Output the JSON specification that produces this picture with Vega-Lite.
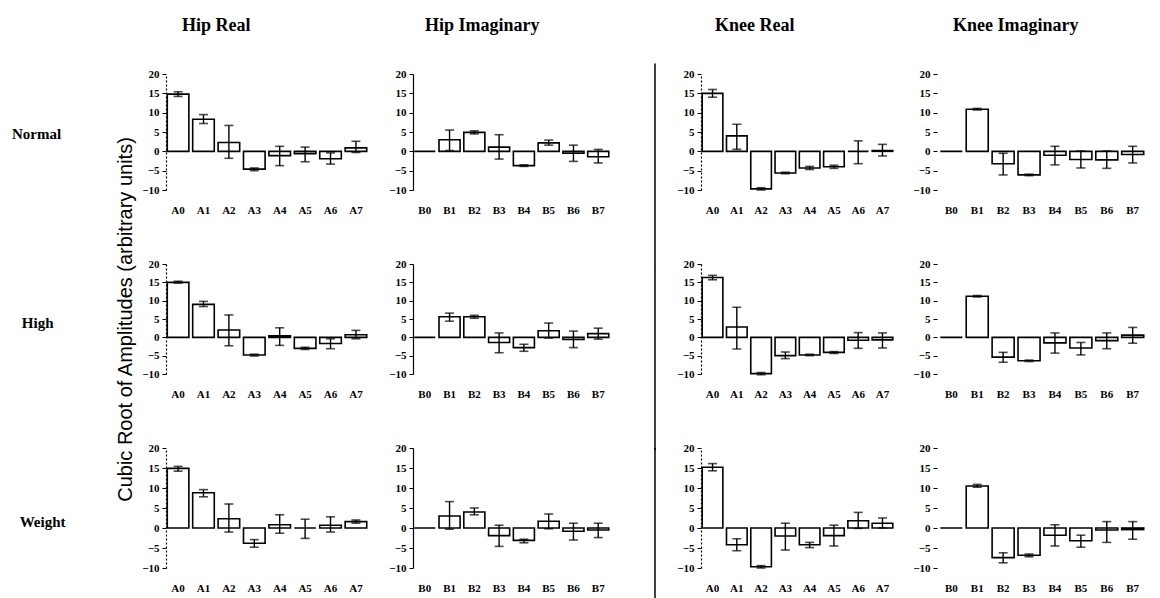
{
"$schema":"https://vega.github.io/schema/vega-lite/v6.json",
"padding":{"left":12,"top":17,"right":5,"bottom":0},
"background":"white",
"config":{
 "view":{"stroke":null},
 "axis":{"labelFont":"Liberation Serif","labelFontWeight":"bold","labelFontSize":11,"labelColor":"black","grid":false,"tickColor":"black","domainColor":"black","titleColor":"black"},
 "axisX":{"domain":false,"ticks":false,"labelAngle":0,"labelPadding":14},
 "axisY":{"tickSize":4,"labelPadding":3,"domainWidth":1.2},
 "scale":{"bandPaddingInner":0.15,"bandPaddingOuter":0.05},
 "title":{"font":"Liberation Serif","fontWeight":"bold","fontSize":18,"color":"black"}
},
"datasets":{"d":[
{"cond":"Normal","part":"Hip Real","coef":"A0","value":14.8,"lo":14.2,"hi":15.4},
{"cond":"Normal","part":"Hip Real","coef":"A1","value":8.3,"lo":7.2,"hi":9.5},
{"cond":"Normal","part":"Hip Real","coef":"A2","value":2.3,"lo":-1.8,"hi":6.7},
{"cond":"Normal","part":"Hip Real","coef":"A3","value":-4.6,"lo":-5.0,"hi":-4.3},
{"cond":"Normal","part":"Hip Real","coef":"A4","value":-1.1,"lo":-3.7,"hi":1.3},
{"cond":"Normal","part":"Hip Real","coef":"A5","value":-0.6,"lo":-2.7,"hi":1.1},
{"cond":"Normal","part":"Hip Real","coef":"A6","value":-1.9,"lo":-3.3,"hi":-0.4},
{"cond":"Normal","part":"Hip Real","coef":"A7","value":0.9,"lo":-0.3,"hi":2.6},
{"cond":"Normal","part":"Hip Imaginary","coef":"B0","value":0,"lo":null,"hi":null},
{"cond":"Normal","part":"Hip Imaginary","coef":"B1","value":3.0,"lo":0.2,"hi":5.5},
{"cond":"Normal","part":"Hip Imaginary","coef":"B2","value":4.9,"lo":4.5,"hi":5.3},
{"cond":"Normal","part":"Hip Imaginary","coef":"B3","value":1.1,"lo":-2.0,"hi":4.3},
{"cond":"Normal","part":"Hip Imaginary","coef":"B4","value":-3.7,"lo":-3.9,"hi":-3.5},
{"cond":"Normal","part":"Hip Imaginary","coef":"B5","value":2.2,"lo":1.6,"hi":2.9},
{"cond":"Normal","part":"Hip Imaginary","coef":"B6","value":-0.5,"lo":-2.6,"hi":1.6},
{"cond":"Normal","part":"Hip Imaginary","coef":"B7","value":-1.4,"lo":-3.0,"hi":0.5},
{"cond":"Normal","part":"Knee Real","coef":"A0","value":15.0,"lo":14.0,"hi":16.0},
{"cond":"Normal","part":"Knee Real","coef":"A1","value":4.0,"lo":0.5,"hi":7.0},
{"cond":"Normal","part":"Knee Real","coef":"A2","value":-9.7,"lo":-10.0,"hi":-9.4},
{"cond":"Normal","part":"Knee Real","coef":"A3","value":-5.6,"lo":-5.8,"hi":-5.4},
{"cond":"Normal","part":"Knee Real","coef":"A4","value":-4.3,"lo":-4.7,"hi":-3.9},
{"cond":"Normal","part":"Knee Real","coef":"A5","value":-4.0,"lo":-4.4,"hi":-3.6},
{"cond":"Normal","part":"Knee Real","coef":"A6","value":0,"lo":-3.2,"hi":2.7},
{"cond":"Normal","part":"Knee Real","coef":"A7","value":0.2,"lo":-1.2,"hi":1.8},
{"cond":"Normal","part":"Knee Imaginary","coef":"B0","value":0,"lo":null,"hi":null},
{"cond":"Normal","part":"Knee Imaginary","coef":"B1","value":10.9,"lo":10.7,"hi":11.1},
{"cond":"Normal","part":"Knee Imaginary","coef":"B2","value":-3.2,"lo":-6.1,"hi":-0.5},
{"cond":"Normal","part":"Knee Imaginary","coef":"B3","value":-6.1,"lo":-6.3,"hi":-5.9},
{"cond":"Normal","part":"Knee Imaginary","coef":"B4","value":-1.0,"lo":-3.5,"hi":1.3},
{"cond":"Normal","part":"Knee Imaginary","coef":"B5","value":-2.1,"lo":-4.3,"hi":0.1},
{"cond":"Normal","part":"Knee Imaginary","coef":"B6","value":-2.2,"lo":-4.4,"hi":0.1},
{"cond":"Normal","part":"Knee Imaginary","coef":"B7","value":-0.8,"lo":-3.0,"hi":1.3},
{"cond":"High","part":"Hip Real","coef":"A0","value":15.0,"lo":14.8,"hi":15.3},
{"cond":"High","part":"Hip Real","coef":"A1","value":9.0,"lo":8.4,"hi":9.8},
{"cond":"High","part":"Hip Real","coef":"A2","value":2.0,"lo":-2.3,"hi":6.1},
{"cond":"High","part":"Hip Real","coef":"A3","value":-4.8,"lo":-5.1,"hi":-4.6},
{"cond":"High","part":"Hip Real","coef":"A4","value":0.4,"lo":-2.2,"hi":2.6},
{"cond":"High","part":"Hip Real","coef":"A5","value":-3.0,"lo":-3.3,"hi":-2.7},
{"cond":"High","part":"Hip Real","coef":"A6","value":-1.7,"lo":-3.1,"hi":-0.4},
{"cond":"High","part":"Hip Real","coef":"A7","value":0.7,"lo":-0.4,"hi":1.9},
{"cond":"High","part":"Hip Imaginary","coef":"B0","value":0,"lo":null,"hi":null},
{"cond":"High","part":"Hip Imaginary","coef":"B1","value":5.6,"lo":4.4,"hi":6.6},
{"cond":"High","part":"Hip Imaginary","coef":"B2","value":5.6,"lo":5.2,"hi":6.0},
{"cond":"High","part":"Hip Imaginary","coef":"B3","value":-1.4,"lo":-4.2,"hi":1.2},
{"cond":"High","part":"Hip Imaginary","coef":"B4","value":-2.8,"lo":-3.8,"hi":-1.9},
{"cond":"High","part":"Hip Imaginary","coef":"B5","value":1.8,"lo":-0.2,"hi":3.9},
{"cond":"High","part":"Hip Imaginary","coef":"B6","value":-0.6,"lo":-2.8,"hi":1.7},
{"cond":"High","part":"Hip Imaginary","coef":"B7","value":1.0,"lo":-0.5,"hi":2.5},
{"cond":"High","part":"Knee Real","coef":"A0","value":16.3,"lo":15.7,"hi":16.9},
{"cond":"High","part":"Knee Real","coef":"A1","value":2.8,"lo":-3.2,"hi":8.2},
{"cond":"High","part":"Knee Real","coef":"A2","value":-9.9,"lo":-10.2,"hi":-9.6},
{"cond":"High","part":"Knee Real","coef":"A3","value":-5.0,"lo":-5.8,"hi":-4.0},
{"cond":"High","part":"Knee Real","coef":"A4","value":-4.8,"lo":-5.0,"hi":-4.6},
{"cond":"High","part":"Knee Real","coef":"A5","value":-4.1,"lo":-4.4,"hi":-3.9},
{"cond":"High","part":"Knee Real","coef":"A6","value":-0.8,"lo":-3.0,"hi":1.3},
{"cond":"High","part":"Knee Real","coef":"A7","value":-0.7,"lo":-2.9,"hi":1.2},
{"cond":"High","part":"Knee Imaginary","coef":"B0","value":0,"lo":null,"hi":null},
{"cond":"High","part":"Knee Imaginary","coef":"B1","value":11.2,"lo":11.0,"hi":11.4},
{"cond":"High","part":"Knee Imaginary","coef":"B2","value":-5.4,"lo":-6.8,"hi":-4.1},
{"cond":"High","part":"Knee Imaginary","coef":"B3","value":-6.4,"lo":-6.6,"hi":-6.2},
{"cond":"High","part":"Knee Imaginary","coef":"B4","value":-1.5,"lo":-4.3,"hi":1.2},
{"cond":"High","part":"Knee Imaginary","coef":"B5","value":-2.9,"lo":-4.8,"hi":-1.4},
{"cond":"High","part":"Knee Imaginary","coef":"B6","value":-0.9,"lo":-3.1,"hi":1.2},
{"cond":"High","part":"Knee Imaginary","coef":"B7","value":0.6,"lo":-1.6,"hi":2.7},
{"cond":"Weight","part":"Hip Real","coef":"A0","value":14.9,"lo":14.2,"hi":15.4},
{"cond":"Weight","part":"Hip Real","coef":"A1","value":8.8,"lo":7.8,"hi":9.6},
{"cond":"Weight","part":"Hip Real","coef":"A2","value":2.3,"lo":-1.0,"hi":6.0},
{"cond":"Weight","part":"Hip Real","coef":"A3","value":-3.8,"lo":-4.8,"hi":-2.9},
{"cond":"Weight","part":"Hip Real","coef":"A4","value":0.8,"lo":-1.3,"hi":3.3},
{"cond":"Weight","part":"Hip Real","coef":"A5","value":0,"lo":-2.6,"hi":2.2},
{"cond":"Weight","part":"Hip Real","coef":"A6","value":0.7,"lo":-1.0,"hi":2.8},
{"cond":"Weight","part":"Hip Real","coef":"A7","value":1.6,"lo":1.2,"hi":2.0},
{"cond":"Weight","part":"Hip Imaginary","coef":"B0","value":0,"lo":null,"hi":null},
{"cond":"Weight","part":"Hip Imaginary","coef":"B1","value":3.0,"lo":-0.3,"hi":6.6},
{"cond":"Weight","part":"Hip Imaginary","coef":"B2","value":4.0,"lo":3.3,"hi":5.0},
{"cond":"Weight","part":"Hip Imaginary","coef":"B3","value":-1.9,"lo":-4.6,"hi":0.7},
{"cond":"Weight","part":"Hip Imaginary","coef":"B4","value":-3.1,"lo":-3.7,"hi":-2.8},
{"cond":"Weight","part":"Hip Imaginary","coef":"B5","value":1.7,"lo":-0.2,"hi":3.5},
{"cond":"Weight","part":"Hip Imaginary","coef":"B6","value":-0.8,"lo":-3.0,"hi":1.2},
{"cond":"Weight","part":"Hip Imaginary","coef":"B7","value":-0.5,"lo":-2.4,"hi":1.2},
{"cond":"Weight","part":"Knee Real","coef":"A0","value":15.2,"lo":14.3,"hi":16.1},
{"cond":"Weight","part":"Knee Real","coef":"A1","value":-4.2,"lo":-5.7,"hi":-2.7},
{"cond":"Weight","part":"Knee Real","coef":"A2","value":-9.7,"lo":-10.0,"hi":-9.4},
{"cond":"Weight","part":"Knee Real","coef":"A3","value":-2.0,"lo":-5.5,"hi":1.2},
{"cond":"Weight","part":"Knee Real","coef":"A4","value":-4.2,"lo":-4.9,"hi":-3.6},
{"cond":"Weight","part":"Knee Real","coef":"A5","value":-1.9,"lo":-4.5,"hi":0.7},
{"cond":"Weight","part":"Knee Real","coef":"A6","value":1.8,"lo":-0.1,"hi":3.9},
{"cond":"Weight","part":"Knee Real","coef":"A7","value":1.2,"lo":0.0,"hi":2.5},
{"cond":"Weight","part":"Knee Imaginary","coef":"B0","value":0,"lo":null,"hi":null},
{"cond":"Weight","part":"Knee Imaginary","coef":"B1","value":10.5,"lo":10.2,"hi":10.9},
{"cond":"Weight","part":"Knee Imaginary","coef":"B2","value":-7.4,"lo":-8.7,"hi":-6.2},
{"cond":"Weight","part":"Knee Imaginary","coef":"B3","value":-6.8,"lo":-7.2,"hi":-6.5},
{"cond":"Weight","part":"Knee Imaginary","coef":"B4","value":-1.8,"lo":-4.5,"hi":0.8},
{"cond":"Weight","part":"Knee Imaginary","coef":"B5","value":-3.2,"lo":-4.8,"hi":-1.8},
{"cond":"Weight","part":"Knee Imaginary","coef":"B6","value":-0.5,"lo":-3.6,"hi":1.6},
{"cond":"Weight","part":"Knee Imaginary","coef":"B7","value":-0.4,"lo":-2.8,"hi":1.6}
]},
"bounds":"flush",
"columns":6,
"spacing":{"row":74,"column":45},
"concat":[
 {"width":109,"height":116,"data":{"values":[{"cond":"Normal"}]},"mark":{"type":"text","align":"left","baseline":"middle","font":"Liberation Serif","fontWeight":"bold","fontSize":15,"color":"black"},
  "encoding":{"text":{"field":"cond"},"x":{"datum":0,"type":"quantitative","scale":{"domain":[0,1]},"axis":null},"y":{"datum":0.48,"type":"quantitative","scale":{"domain":[0,1]},"axis":null}}},
 {"width":202,"height":116,"title":{"text":"Hip Real","anchor":"start","frame":"group","dx":16,"offset":33},
  "data":{"name":"d"},"transform":[{"filter":"datum.cond=='Normal'&&datum.part=='Hip Real'"}],
  "encoding":{"x":{"field":"coef","type":"nominal","sort":null,"title":null}},
  "layer":[
   {"mark":{"type":"bar","fill":"white","stroke":"black","strokeWidth":1.6},"encoding":{"y":{"field":"value","type":"quantitative","title":null,"scale":{"domain":[-10,20]},"axis":{"values":[-10,-5,0,5,10,15,20],"domainDash":[2,2]}}}},
   {"mark":{"type":"rule","color":"black","strokeWidth":1.4},"encoding":{"y":{"field":"lo","type":"quantitative","title":null,"axis":{"values":[-10,-5,0,5,10,15,20],"domainDash":[2,2]}},"y2":{"field":"hi"}}},
   {"mark":{"type":"tick","color":"black","size":9,"thickness":1.6},"encoding":{"y":{"field":"lo","type":"quantitative","title":null,"axis":{"values":[-10,-5,0,5,10,15,20],"domainDash":[2,2]}}}},
   {"mark":{"type":"tick","color":"black","size":9,"thickness":1.6},"encoding":{"y":{"field":"hi","type":"quantitative","title":null,"axis":{"values":[-10,-5,0,5,10,15,20],"domainDash":[2,2]}}}}
  ]},
 {"width":197,"height":116,"title":{"text":"Hip Imaginary","anchor":"start","frame":"group","dx":12,"offset":33},
  "data":{"name":"d"},"transform":[{"filter":"datum.cond=='Normal'&&datum.part=='Hip Imaginary'"}],
  "encoding":{"x":{"field":"coef","type":"nominal","sort":null,"title":null}},
  "layer":[
   {"mark":{"type":"bar","fill":"white","stroke":"black","strokeWidth":1.6},"encoding":{"y":{"field":"value","type":"quantitative","title":null,"scale":{"domain":[-10,20]},"axis":{"values":[-10,-5,0,5,10,15,20]}}}},
   {"mark":{"type":"rule","color":"black","strokeWidth":1.4},"encoding":{"y":{"field":"lo","type":"quantitative","title":null,"axis":{"values":[-10,-5,0,5,10,15,20]}},"y2":{"field":"hi"}}},
   {"mark":{"type":"tick","color":"black","size":9,"thickness":1.6},"encoding":{"y":{"field":"lo","type":"quantitative","title":null,"axis":{"values":[-10,-5,0,5,10,15,20]}}}},
   {"mark":{"type":"tick","color":"black","size":9,"thickness":1.6},"encoding":{"y":{"field":"hi","type":"quantitative","title":null,"axis":{"values":[-10,-5,0,5,10,15,20]}}}}
  ]},
 {"width":1,"height":116,"data":{"values":[{"x":0}]},"mark":{"type":"rule","color":"black","strokeWidth":1.5},
  "encoding":{"x":{"field":"x","type":"quantitative","scale":{"domain":[0,1]},"axis":null},"y":{"datum":1.09,"type":"quantitative","scale":{"domain":[0,1]},"axis":null},"y2":{"datum":-0.64}}},
 {"width":193,"height":116,"title":{"text":"Knee Real","anchor":"start","frame":"group","dx":14,"offset":33},
  "data":{"name":"d"},"transform":[{"filter":"datum.cond=='Normal'&&datum.part=='Knee Real'"}],
  "encoding":{"x":{"field":"coef","type":"nominal","sort":null,"title":null}},
  "layer":[
   {"mark":{"type":"bar","fill":"white","stroke":"black","strokeWidth":1.6},"encoding":{"y":{"field":"value","type":"quantitative","title":null,"scale":{"domain":[-10,20]},"axis":{"values":[-10,-5,0,5,10,15,20],"domainDash":[2,2]}}}},
   {"mark":{"type":"rule","color":"black","strokeWidth":1.4},"encoding":{"y":{"field":"lo","type":"quantitative","title":null,"axis":{"values":[-10,-5,0,5,10,15,20],"domainDash":[2,2]}},"y2":{"field":"hi"}}},
   {"mark":{"type":"tick","color":"black","size":9,"thickness":1.6},"encoding":{"y":{"field":"lo","type":"quantitative","title":null,"axis":{"values":[-10,-5,0,5,10,15,20],"domainDash":[2,2]}}}},
   {"mark":{"type":"tick","color":"black","size":9,"thickness":1.6},"encoding":{"y":{"field":"hi","type":"quantitative","title":null,"axis":{"values":[-10,-5,0,5,10,15,20],"domainDash":[2,2]}}}}
  ]},
 {"width":206,"height":116,"title":{"text":"Knee Imaginary","anchor":"start","frame":"group","dx":14,"offset":33},
  "data":{"name":"d"},"transform":[{"filter":"datum.cond=='Normal'&&datum.part=='Knee Imaginary'"}],
  "encoding":{"x":{"field":"coef","type":"nominal","sort":null,"title":null}},
  "layer":[
   {"mark":{"type":"bar","fill":"white","stroke":"black","strokeWidth":1.6},"encoding":{"y":{"field":"value","type":"quantitative","title":null,"scale":{"domain":[-10,20]},"axis":{"values":[-10,-5,0,5,10,15,20],"domain":false,"offset":2}}}},
   {"mark":{"type":"rule","color":"black","strokeWidth":1.4},"encoding":{"y":{"field":"lo","type":"quantitative","title":null,"axis":{"values":[-10,-5,0,5,10,15,20],"domain":false,"offset":2}},"y2":{"field":"hi"}}},
   {"mark":{"type":"tick","color":"black","size":9,"thickness":1.6},"encoding":{"y":{"field":"lo","type":"quantitative","title":null,"axis":{"values":[-10,-5,0,5,10,15,20],"domain":false,"offset":2}}}},
   {"mark":{"type":"tick","color":"black","size":9,"thickness":1.6},"encoding":{"y":{"field":"hi","type":"quantitative","title":null,"axis":{"values":[-10,-5,0,5,10,15,20],"domain":false,"offset":2}}}}
  ]},

 {"width":109,"height":110,"data":{"values":[{"cond":"High"}]},"mark":{"type":"text","align":"left","baseline":"middle","font":"Liberation Serif","fontWeight":"bold","fontSize":15,"color":"black"},
  "encoding":{"text":{"field":"cond"},"x":{"datum":0.09,"type":"quantitative","scale":{"domain":[0,1]},"axis":null},"y":{"datum":0.46,"type":"quantitative","scale":{"domain":[0,1]},"axis":null}}},
 {"width":202,"height":110,
  "data":{"name":"d"},"transform":[{"filter":"datum.cond=='High'&&datum.part=='Hip Real'"}],
  "encoding":{"x":{"field":"coef","type":"nominal","sort":null,"title":null}},
  "layer":[
   {"mark":{"type":"bar","fill":"white","stroke":"black","strokeWidth":1.6},"encoding":{"y":{"field":"value","type":"quantitative","title":"Cubic Root of Amplitudes (arbitrary units)","scale":{"domain":[-10,20]},"axis":{"values":[-10,-5,0,5,10,15,20],"domainDash":[2,2],"title":"Cubic Root of Amplitudes (arbitrary units)","titleFont":"Liberation Sans","titleFontSize":20,"titleFontWeight":"normal","titlePadding":6}}}},
   {"mark":{"type":"rule","color":"black","strokeWidth":1.4},"encoding":{"y":{"field":"lo","type":"quantitative","title":"Cubic Root of Amplitudes (arbitrary units)","axis":{"values":[-10,-5,0,5,10,15,20],"domainDash":[2,2],"title":"Cubic Root of Amplitudes (arbitrary units)","titleFont":"Liberation Sans","titleFontSize":20,"titleFontWeight":"normal","titlePadding":6}},"y2":{"field":"hi"}}},
   {"mark":{"type":"tick","color":"black","size":9,"thickness":1.6},"encoding":{"y":{"field":"lo","type":"quantitative","title":"Cubic Root of Amplitudes (arbitrary units)","axis":{"values":[-10,-5,0,5,10,15,20],"domainDash":[2,2],"title":"Cubic Root of Amplitudes (arbitrary units)","titleFont":"Liberation Sans","titleFontSize":20,"titleFontWeight":"normal","titlePadding":6}}}},
   {"mark":{"type":"tick","color":"black","size":9,"thickness":1.6},"encoding":{"y":{"field":"hi","type":"quantitative","title":"Cubic Root of Amplitudes (arbitrary units)","axis":{"values":[-10,-5,0,5,10,15,20],"domainDash":[2,2],"title":"Cubic Root of Amplitudes (arbitrary units)","titleFont":"Liberation Sans","titleFontSize":20,"titleFontWeight":"normal","titlePadding":6}}}}
  ]},
 {"width":197,"height":110,
  "data":{"name":"d"},"transform":[{"filter":"datum.cond=='High'&&datum.part=='Hip Imaginary'"}],
  "encoding":{"x":{"field":"coef","type":"nominal","sort":null,"title":null}},
  "layer":[
   {"mark":{"type":"bar","fill":"white","stroke":"black","strokeWidth":1.6},"encoding":{"y":{"field":"value","type":"quantitative","title":null,"scale":{"domain":[-10,20]},"axis":{"values":[-10,-5,0,5,10,15,20]}}}},
   {"mark":{"type":"rule","color":"black","strokeWidth":1.4},"encoding":{"y":{"field":"lo","type":"quantitative","title":null,"axis":{"values":[-10,-5,0,5,10,15,20]}},"y2":{"field":"hi"}}},
   {"mark":{"type":"tick","color":"black","size":9,"thickness":1.6},"encoding":{"y":{"field":"lo","type":"quantitative","title":null,"axis":{"values":[-10,-5,0,5,10,15,20]}}}},
   {"mark":{"type":"tick","color":"black","size":9,"thickness":1.6},"encoding":{"y":{"field":"hi","type":"quantitative","title":null,"axis":{"values":[-10,-5,0,5,10,15,20]}}}}
  ]},
 {"width":1,"height":110,"data":{"values":[{"x":0}]},"mark":{"type":"rule","color":"black","strokeWidth":1.5},
  "encoding":{"x":{"field":"x","type":"quantitative","scale":{"domain":[0,1]},"axis":null},"y":{"datum":1,"type":"quantitative","scale":{"domain":[0,1]},"axis":null},"y2":{"datum":-0.69}}},
 {"width":193,"height":110,
  "data":{"name":"d"},"transform":[{"filter":"datum.cond=='High'&&datum.part=='Knee Real'"}],
  "encoding":{"x":{"field":"coef","type":"nominal","sort":null,"title":null}},
  "layer":[
   {"mark":{"type":"bar","fill":"white","stroke":"black","strokeWidth":1.6},"encoding":{"y":{"field":"value","type":"quantitative","title":null,"scale":{"domain":[-10,20]},"axis":{"values":[-10,-5,0,5,10,15,20],"domainDash":[2,2]}}}},
   {"mark":{"type":"rule","color":"black","strokeWidth":1.4},"encoding":{"y":{"field":"lo","type":"quantitative","title":null,"axis":{"values":[-10,-5,0,5,10,15,20],"domainDash":[2,2]}},"y2":{"field":"hi"}}},
   {"mark":{"type":"tick","color":"black","size":9,"thickness":1.6},"encoding":{"y":{"field":"lo","type":"quantitative","title":null,"axis":{"values":[-10,-5,0,5,10,15,20],"domainDash":[2,2]}}}},
   {"mark":{"type":"tick","color":"black","size":9,"thickness":1.6},"encoding":{"y":{"field":"hi","type":"quantitative","title":null,"axis":{"values":[-10,-5,0,5,10,15,20],"domainDash":[2,2]}}}}
  ]},
 {"width":206,"height":110,
  "data":{"name":"d"},"transform":[{"filter":"datum.cond=='High'&&datum.part=='Knee Imaginary'"}],
  "encoding":{"x":{"field":"coef","type":"nominal","sort":null,"title":null}},
  "layer":[
   {"mark":{"type":"bar","fill":"white","stroke":"black","strokeWidth":1.6},"encoding":{"y":{"field":"value","type":"quantitative","title":null,"scale":{"domain":[-10,20]},"axis":{"values":[-10,-5,0,5,10,15,20],"domain":false,"offset":2}}}},
   {"mark":{"type":"rule","color":"black","strokeWidth":1.4},"encoding":{"y":{"field":"lo","type":"quantitative","title":null,"axis":{"values":[-10,-5,0,5,10,15,20],"domain":false,"offset":2}},"y2":{"field":"hi"}}},
   {"mark":{"type":"tick","color":"black","size":9,"thickness":1.6},"encoding":{"y":{"field":"lo","type":"quantitative","title":null,"axis":{"values":[-10,-5,0,5,10,15,20],"domain":false,"offset":2}}}},
   {"mark":{"type":"tick","color":"black","size":9,"thickness":1.6},"encoding":{"y":{"field":"hi","type":"quantitative","title":null,"axis":{"values":[-10,-5,0,5,10,15,20],"domain":false,"offset":2}}}}
  ]},

 {"width":109,"height":120,"data":{"values":[{"cond":"Weight"}]},"mark":{"type":"text","align":"left","baseline":"middle","font":"Liberation Serif","fontWeight":"bold","fontSize":15,"color":"black"},
  "encoding":{"text":{"field":"cond"},"x":{"datum":0.07,"type":"quantitative","scale":{"domain":[0,1]},"axis":null},"y":{"datum":0.38,"type":"quantitative","scale":{"domain":[0,1]},"axis":null}}},
 {"width":202,"height":120,
  "data":{"name":"d"},"transform":[{"filter":"datum.cond=='Weight'&&datum.part=='Hip Real'"}],
  "encoding":{"x":{"field":"coef","type":"nominal","sort":null,"title":null}},
  "layer":[
   {"mark":{"type":"bar","fill":"white","stroke":"black","strokeWidth":1.6},"encoding":{"y":{"field":"value","type":"quantitative","title":null,"scale":{"domain":[-10,20]},"axis":{"values":[-10,-5,0,5,10,15,20],"domainDash":[2,2]}}}},
   {"mark":{"type":"rule","color":"black","strokeWidth":1.4},"encoding":{"y":{"field":"lo","type":"quantitative","title":null,"axis":{"values":[-10,-5,0,5,10,15,20],"domainDash":[2,2]}},"y2":{"field":"hi"}}},
   {"mark":{"type":"tick","color":"black","size":9,"thickness":1.6},"encoding":{"y":{"field":"lo","type":"quantitative","title":null,"axis":{"values":[-10,-5,0,5,10,15,20],"domainDash":[2,2]}}}},
   {"mark":{"type":"tick","color":"black","size":9,"thickness":1.6},"encoding":{"y":{"field":"hi","type":"quantitative","title":null,"axis":{"values":[-10,-5,0,5,10,15,20],"domainDash":[2,2]}}}}
  ]},
 {"width":197,"height":120,
  "data":{"name":"d"},"transform":[{"filter":"datum.cond=='Weight'&&datum.part=='Hip Imaginary'"}],
  "encoding":{"x":{"field":"coef","type":"nominal","sort":null,"title":null}},
  "layer":[
   {"mark":{"type":"bar","fill":"white","stroke":"black","strokeWidth":1.6},"encoding":{"y":{"field":"value","type":"quantitative","title":null,"scale":{"domain":[-10,20]},"axis":{"values":[-10,-5,0,5,10,15,20]}}}},
   {"mark":{"type":"rule","color":"black","strokeWidth":1.4},"encoding":{"y":{"field":"lo","type":"quantitative","title":null,"axis":{"values":[-10,-5,0,5,10,15,20]}},"y2":{"field":"hi"}}},
   {"mark":{"type":"tick","color":"black","size":9,"thickness":1.6},"encoding":{"y":{"field":"lo","type":"quantitative","title":null,"axis":{"values":[-10,-5,0,5,10,15,20]}}}},
   {"mark":{"type":"tick","color":"black","size":9,"thickness":1.6},"encoding":{"y":{"field":"hi","type":"quantitative","title":null,"axis":{"values":[-10,-5,0,5,10,15,20]}}}}
  ]},
 {"width":1,"height":120,"data":{"values":[{"x":0}]},"mark":{"type":"rule","color":"black","strokeWidth":1.5},
  "encoding":{"x":{"field":"x","type":"quantitative","scale":{"domain":[0,1]},"axis":null},"y":{"datum":1,"type":"quantitative","scale":{"domain":[0,1]},"axis":null},"y2":{"datum":-0.3}}},
 {"width":193,"height":120,
  "data":{"name":"d"},"transform":[{"filter":"datum.cond=='Weight'&&datum.part=='Knee Real'"}],
  "encoding":{"x":{"field":"coef","type":"nominal","sort":null,"title":null}},
  "layer":[
   {"mark":{"type":"bar","fill":"white","stroke":"black","strokeWidth":1.6},"encoding":{"y":{"field":"value","type":"quantitative","title":null,"scale":{"domain":[-10,20]},"axis":{"values":[-10,-5,0,5,10,15,20],"domainDash":[2,2]}}}},
   {"mark":{"type":"rule","color":"black","strokeWidth":1.4},"encoding":{"y":{"field":"lo","type":"quantitative","title":null,"axis":{"values":[-10,-5,0,5,10,15,20],"domainDash":[2,2]}},"y2":{"field":"hi"}}},
   {"mark":{"type":"tick","color":"black","size":9,"thickness":1.6},"encoding":{"y":{"field":"lo","type":"quantitative","title":null,"axis":{"values":[-10,-5,0,5,10,15,20],"domainDash":[2,2]}}}},
   {"mark":{"type":"tick","color":"black","size":9,"thickness":1.6},"encoding":{"y":{"field":"hi","type":"quantitative","title":null,"axis":{"values":[-10,-5,0,5,10,15,20],"domainDash":[2,2]}}}}
  ]},
 {"width":206,"height":120,
  "data":{"name":"d"},"transform":[{"filter":"datum.cond=='Weight'&&datum.part=='Knee Imaginary'"}],
  "encoding":{"x":{"field":"coef","type":"nominal","sort":null,"title":null}},
  "layer":[
   {"mark":{"type":"bar","fill":"white","stroke":"black","strokeWidth":1.6},"encoding":{"y":{"field":"value","type":"quantitative","title":null,"scale":{"domain":[-10,20]},"axis":{"values":[-10,-5,0,5,10,15,20],"domain":false,"offset":2}}}},
   {"mark":{"type":"rule","color":"black","strokeWidth":1.4},"encoding":{"y":{"field":"lo","type":"quantitative","title":null,"axis":{"values":[-10,-5,0,5,10,15,20],"domain":false,"offset":2}},"y2":{"field":"hi"}}},
   {"mark":{"type":"tick","color":"black","size":9,"thickness":1.6},"encoding":{"y":{"field":"lo","type":"quantitative","title":null,"axis":{"values":[-10,-5,0,5,10,15,20],"domain":false,"offset":2}}}},
   {"mark":{"type":"tick","color":"black","size":9,"thickness":1.6},"encoding":{"y":{"field":"hi","type":"quantitative","title":null,"axis":{"values":[-10,-5,0,5,10,15,20],"domain":false,"offset":2}}}}
  ]}
]
}
